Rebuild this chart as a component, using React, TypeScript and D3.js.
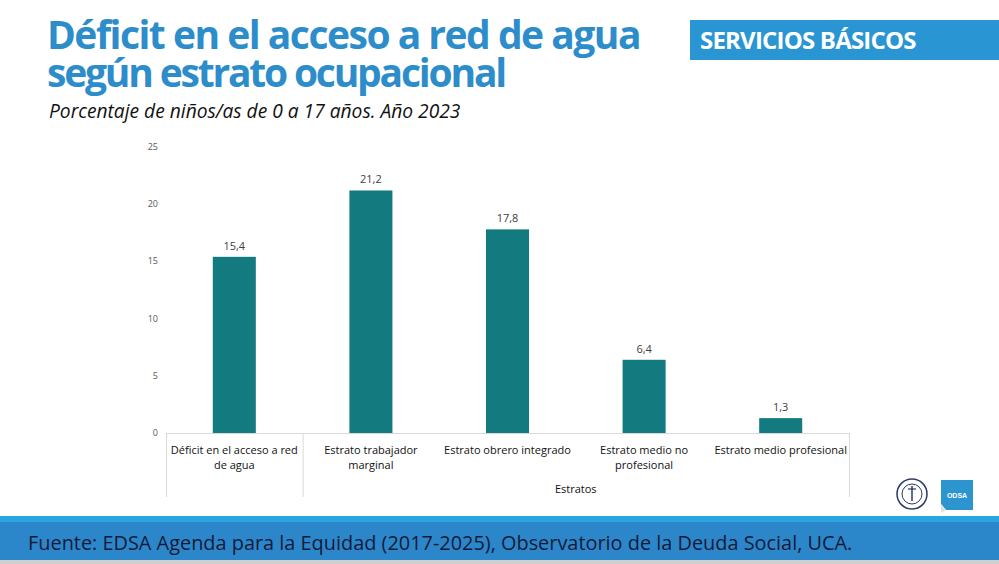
import React from "react";
import * as d3 from "d3";

const categories = [
  "Déficit en el acceso a red de agua",
  "Estrato trabajador marginal",
  "Estrato obrero integrado",
  "Estrato medio no profesional",
  "Estrato medio profesional",
];
const categoryLines = [
  ["Déficit en el acceso a red", "de agua"],
  ["Estrato trabajador", "marginal"],
  ["Estrato obrero integrado"],
  ["Estrato medio no", "profesional"],
  ["Estrato medio profesional"],
];
const values = [15.4, 21.2, 17.8, 6.4, 1.3];
const yTicks = [0, 5, 10, 15, 20, 25];
const groupLabel = "Estratos";
const title1 = "Déficit en el acceso a red de agua";
const title2 = "según estrato ocupacional";
const subtitle = "Porcentaje de niños/as de 0 a 17 años. Año 2023";
const badge = "SERVICIOS BÁSICOS";
const source = "Fuente: EDSA Agenda para la Equidad (2017-2025), Observatorio de la Deuda Social, UCA.";

const W = 999;
const H = 564;
const plotLeft = 166;
const plotRight = 849;
const y0 = 433;
const yTop = 147;

export default function App() {
  const x = d3
    .scaleBand<string>()
    .domain(categories)
    .range([plotLeft, plotRight])
    .paddingInner(0.685)
    .paddingOuter(0.3425);
  const xb = d3.scaleBand<string>().domain(categories).range([plotLeft, plotRight]).padding(0);
  const y = d3.scaleLinear().domain([0, 25]).range([y0, yTop]);
  const fmt = (v: number) => v.toFixed(1).replace(".", ",");
  const groupStart = xb(categories[1])!;
  const sans = "'Liberation Sans', Arial, sans-serif";
  const calib = "'Open Sans', 'Noto Sans', sans-serif";

  return (
    <svg
      width={W}
      height={H}
      viewBox={`0 0 ${W} ${H}`}
      style={{ position: "absolute", left: 0, top: 0, background: "#fff" }}
    >
      <rect x={0} y={0} width={W} height={H} fill="#ffffff" />
      {/* Title */}
      <text x={47} y={49} fill="#2d8dcb" fontFamily="'Open Sans', sans-serif" fontWeight={700} fontSize={39}>
        <tspan x={47} y={49} letterSpacing={-1.5}>{title1}</tspan>
        <tspan x={47} y={87} letterSpacing={-2.2}>{title2}</tspan>
      </text>
      <text x={49} y={118} fill="#111" fontFamily={calib} fontStyle="italic" fontSize={19.2}>
        {subtitle}
      </text>
      {/* Badge */}
      <rect x={690} y={20} width={309} height={40} fill="#2a95d3" />
      <text x={700} y={49} fill="#fff" fontFamily="'Open Sans', sans-serif" fontWeight={700} fontSize={24} letterSpacing={-0.8}>
        {badge}
      </text>

      {/* Y tick labels */}
      {yTicks.map((t) => (
        <text key={t} x={158} y={y(t) + 3} textAnchor="end" fontFamily={calib} fontSize={9} fill="#595959">
          {t}
        </text>
      ))}

      {/* Bars */}
      {categories.map((c, i) => (
        <g key={c}>
          <rect x={x(c)!} y={y(values[i])} width={x.bandwidth()} height={y0 - y(values[i])} fill="#137b80" />
          <text
            x={x(c)! + x.bandwidth() / 2}
            y={y(values[i]) - 7}
            textAnchor="middle"
            fontFamily={calib}
            fontSize={11}
            fill="#404040"
          >
            {fmt(values[i])}
          </text>
        </g>
      ))}

      {/* Axis */}
      <line x1={plotLeft} x2={plotRight} y1={y0 + 0.5} y2={y0 + 0.5} stroke="#d9d9d9" />
      {[plotLeft, groupStart, plotRight].map((lx, i) => (
        <line key={i} x1={lx + 0.5} x2={lx + 0.5} y1={y0} y2={497} stroke="#d9d9d9" />
      ))}
      {categories.map((c, i) => (
        <text
          key={c}
          x={xb(c)! + xb.bandwidth() / 2}
          y={454}
          textAnchor="middle"
          fontFamily={calib}
          fontSize={11}
          fill="#111"
        >
          {categoryLines[i].map((ln, j) => (
            <tspan key={j} x={xb(c)! + xb.bandwidth() / 2} dy={j === 0 ? 0 : 15}>
              {ln}
            </tspan>
          ))}
        </text>
      ))}
      <text
        x={(groupStart + plotRight) / 2}
        y={493}
        textAnchor="middle"
        fontFamily={calib}
        fontSize={11}
        fill="#111"
      >
        {groupLabel}
      </text>

      {/* Logos */}
      <g>
        <circle cx={912} cy={494} r={15} fill="#fff" stroke="#2b3a67" strokeWidth={1.5} />
        <circle cx={912} cy={494} r={10} fill="#fff" stroke="#2b3a67" strokeWidth={1} />
        <line x1={912} x2={912} y1={486} y2={501} stroke="#2b3a67" strokeWidth={1.5} />
        <line x1={908} x2={916} y1={489} y2={489} stroke="#2b3a67" strokeWidth={1.2} />
        <polygon points="941,480 973,480 973,510 946,510 941,504" fill="#2c95cf" />
        <polygon points="941,504 946,510 941,513" fill="#e0e0e0" />
        <text x={957} y={498} textAnchor="middle" fontFamily={sans} fontWeight={700} fontSize={7} fill="#fff">
          ODSA
        </text>
      </g>

      {/* Footer */}
      <rect x={0} y={516} width={W} height={7} fill="#2aa6df" />
      <rect x={0} y={522} width={W} height={38} fill="#2b87c9" />
      <rect x={0} y={560} width={W} height={4} fill="#cfcfcf" />
      <text x={28} y={550} fontFamily={calib} fontSize={19.9} fill="#141a3a">
        {source}
      </text>
    </svg>
  );
}
